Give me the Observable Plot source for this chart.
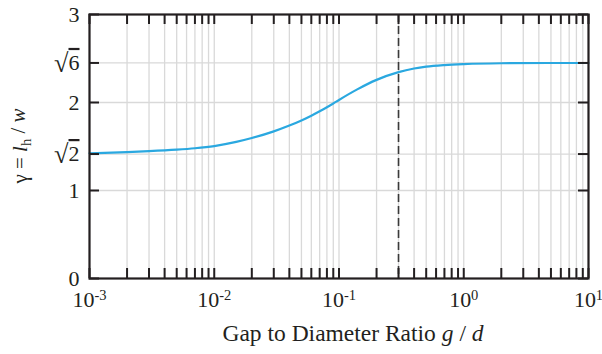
<!DOCTYPE html>
<html>
<head>
<meta charset="utf-8">
<script src="https://cdn.jsdelivr.net/npm/d3@7"></script>
<script src="https://cdn.jsdelivr.net/npm/@observablehq/plot@0.6"></script>
<style>
  html, body { margin: 0; padding: 0; background: white; }
</style>
</head>
<body>
<div id="chart"></div>
<script>
// ---- data ----
const gapRatio = [0.001, 0.002, 0.003, 0.005, 0.007, 0.01, 0.015, 0.02, 0.03, 0.04, 0.05, 0.06, 0.07, 0.08, 0.09, 0.1, 0.14, 0.2, 0.3, 0.4, 0.5, 0.7, 1, 2, 5, 10];
const gamma    = [1.423, 1.437, 1.447, 1.464, 1.480, 1.505, 1.552, 1.596, 1.672, 1.738, 1.796, 1.850, 1.900, 1.946, 1.989, 2.029, 2.149, 2.257, 2.345, 2.386, 2.407, 2.425, 2.436, 2.446, 2.449, 2.449];
const markerGap = [0.3];
const xLabelTicks = [0.001, 0.01, 0.1, 0.3, 1, 10];
const yTicks = [0, 1, Math.SQRT2, 2, Math.sqrt(6), 3];
const yTickLabels = ["0", "1", "√2", "2", "√6", "3"];
const yGrid = [1, Math.SQRT2, 2, Math.sqrt(6)];
const decades = [0.001, 0.01, 0.1, 1, 10];
const mantissas = [1, 2, 3, 4, 5, 6, 7, 8, 9];

const xTicks = [];
decades.forEach(d => mantissas.forEach(m => { if (d * m <= 10 + 1e-9) xTicks.push(+(d * m).toPrecision(3)); }));

const curve = gapRatio.map((g, i) => ({g, y: gamma[i]}));
const ink = "#231f20";

const W = 602, H = 354;
const mL = 89, mR = 14, mT = 14, mB = 76;
const innerW = W - mL - mR, innerH = H - mT - mB;
const tickLen = 10;

const plot = Plot.plot({
  width: W, height: H,
  marginLeft: mL, marginRight: mR, marginTop: mT, marginBottom: mB,
  style: {fontFamily: "'Liberation Serif', 'Times New Roman', serif", fontSize: "22px", color: ink, background: "white"},
  x: {type: "log", domain: [0.001, 10]},
  y: {domain: [0, 3]},
  marks: [
    Plot.ruleX(xTicks, {stroke: "#d9d9d9", strokeWidth: 1.3}),
    Plot.ruleY(yGrid, {stroke: "#d9d9d9", strokeWidth: 1.3}),
    Plot.ruleX(markerGap, {stroke: "#3a3a3a", strokeWidth: 1.6, strokeDasharray: "8,4"}),
    Plot.line(curve, {x: "g", y: "y", stroke: "#2aa8e0", strokeWidth: 2.2, curve: "monotone-x"}),
    // inward ticks, bottom and top
    Plot.tickX(xTicks, {x: d => d, stroke: ink, strokeWidth: 2, insetTop: innerH - tickLen}),
    Plot.tickX(xTicks, {x: d => d, stroke: ink, strokeWidth: 2, insetBottom: innerH - tickLen}),
    // inward ticks, left and right
    Plot.tickY(yTicks, {y: d => d, stroke: ink, strokeWidth: 2, insetRight: innerW - tickLen}),
    Plot.tickY(yTicks, {y: d => d, stroke: ink, strokeWidth: 2, insetLeft: innerW - tickLen}),
    Plot.frame({stroke: ink, strokeWidth: 2.2}),
    Plot.axisX({ticks: xLabelTicks, tickSize: 0, tickPadding: 13, label: null,
      tickFormat: d => d === 0.3 ? "0.3" : "10^" + Math.round(Math.log10(d))}),
    Plot.axisY({ticks: yTicks, tickSize: 0, tickPadding: 10, label: null,
      tickFormat: d => yTickLabels[yTicks.indexOf(d)]})
  ]
});

const svg = d3.select(plot);
svg.selectAll("g[aria-label='x-axis tick label'] text, g[aria-label='y-axis tick label'] text")
  .attr("font-size", null).style("font-size", "22px");
// superscripts for powers of ten
svg.selectAll("g[aria-label='x-axis tick label'] text").each(function() {
  const t = d3.select(this);
  const s = t.text();
  if (s.includes("^")) {
    const [base, exp] = s.split("^");
    t.text(null);
    t.append("tspan").text(base);
    t.append("tspan").attr("dy", "-0.5em").attr("font-size", "0.66em").text(exp);
  }
});
// radicals with vinculum
svg.selectAll("g[aria-label='y-axis tick label'] text").each(function() {
  const t = d3.select(this);
  const s = t.text();
  if (s.startsWith("√")) {
    t.text(null);
    t.append("tspan").attr("font-size", "1.2em").attr("dy", "0.08em").text("√");
    t.append("tspan").attr("dy", "-0.1em").style("text-decoration", "overline").text(s.slice(1));
  }
});
// axis titles
const xl = svg.append("text")
  .attr("x", 353).attr("y", 341)
  .attr("text-anchor", "middle")
  .attr("font-size", 23.5)
  .attr("fill", ink);
xl.append("tspan").text("Gap to Diameter Ratio ");
xl.append("tspan").attr("font-style", "italic").text("g");
xl.append("tspan").text(" / ");
xl.append("tspan").attr("font-style", "italic").text("d");

const yl = svg.append("text")
  .attr("transform", "translate(27,146) rotate(-90)")
  .attr("text-anchor", "middle")
  .attr("font-size", 21)
  .attr("fill", ink);
yl.append("tspan").text("γ = ");
yl.append("tspan").attr("font-style", "italic").text("l");
yl.append("tspan").attr("font-size", "0.7em").attr("dy", "0.3em").text("h");
yl.append("tspan").attr("dy", "-0.3em").text(" / ");
yl.append("tspan").attr("font-style", "italic").text("w");

document.getElementById("chart").appendChild(plot);
</script>
</body>
</html>
